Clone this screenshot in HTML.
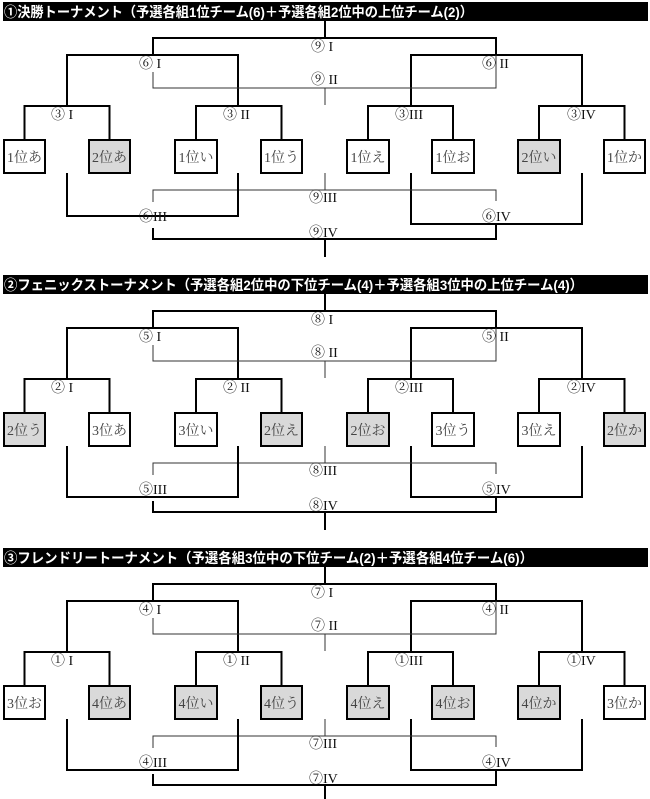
<!DOCTYPE html>
<html><head><meta charset="utf-8"><style>
html,body{margin:0;padding:0;background:#fff;}
svg{display:block;}
.h{font-family:"Liberation Sans","Noto Sans CJK JP",sans-serif;font-weight:bold;font-size:14px;fill:#fff;}
.l{font-family:"Liberation Serif","Noto Serif CJK SC",serif;font-size:14px;fill:#111;}
.b{font-family:"Liberation Serif","Noto Serif CJK SC",serif;font-size:14px;fill:#444;text-anchor:middle;}
.tk{fill:none;stroke:#000;stroke-width:2;}
.tn{fill:none;stroke:#333;stroke-width:1;}
.w{fill:#fff;stroke:#000;stroke-width:2;}
.g{fill:#d9d9d9;stroke:#000;stroke-width:2;}
</style></head><body>
<svg width="650" height="799" viewBox="0 0 650 799" xmlns="http://www.w3.org/2000/svg">
<defs>
<g id="top">
<path class="tk" d="M325 21V38M153 55V38H496V55M67 106V55H238V106M411 106V55H582V106"/>
<path class="tn" d="M153 72V88H496V55M325 88V105M325 173V190"/>
<path class="tk" d="M24.5 140V106H109.5V140M196 140V106H281.5V140M368 140V106H453V140M539 140V106H624.5V140"/>
<path class="tk" d="M411 173V224H582V173"/>
<path class="tn" d="M153 202V190H496V201"/>
<path class="tk" d="M153 228V239H496V224"/>
</g>
</defs>

<!-- Section 1 -->
<g>
<rect x="3" y="2" width="645" height="19" fill="#000"/>
<text class="h" x="4" y="17" textLength="469" lengthAdjust="spacingAndGlyphs">①決勝トーナメント（予選各組1位チーム(6)＋予選各組2位中の上位チーム(2)）</text>
<use href="#top"/>
<path class="tk" d="M67 173V216H238V173M325 239V257"/>
<text class="l" x="311" y="51">⑨ I</text>
<text class="l" x="139" y="68">⑥ I</text>
<text class="l" x="482" y="68">⑥ II</text>
<text class="l" x="311" y="84">⑨ II</text>
<text class="l" x="51" y="119">③ I</text>
<text class="l" x="223" y="119">③ II</text>
<text class="l" x="395" y="119">③III</text>
<text class="l" x="567" y="119">③IV</text>
<text class="l" x="309" y="202">⑨III</text>
<text class="l" x="139" y="221">⑥III</text>
<text class="l" x="482" y="221">⑥IV</text>
<text class="l" x="309" y="237">⑨IV</text>
<rect class="w" x="4" y="140" width="41" height="33"/><text class="b" x="24.5" y="162">1位あ</text>
<rect class="g" x="89" y="140" width="41" height="33"/><text class="b" x="109.5" y="162">2位あ</text>
<rect class="w" x="175" y="140" width="42" height="33"/><text class="b" x="196" y="162">1位い</text>
<rect class="w" x="261" y="140" width="41" height="33"/><text class="b" x="281.5" y="162">1位う</text>
<rect class="w" x="347" y="140" width="42" height="33"/><text class="b" x="368" y="162">1位え</text>
<rect class="w" x="432" y="140" width="42" height="33"/><text class="b" x="453" y="162">1位お</text>
<rect class="g" x="518" y="140" width="42" height="33"/><text class="b" x="539" y="162">2位い</text>
<rect class="w" x="604" y="140" width="41" height="33"/><text class="b" x="624.5" y="162">1位か</text>
</g>

<!-- Section 2 -->
<g transform="translate(0,273)">
<rect x="3" y="2" width="645" height="19" fill="#000"/>
<text class="h" x="4" y="17" textLength="579" lengthAdjust="spacingAndGlyphs">②フェニックストーナメント（予選各組2位中の下位チーム(4)＋予選各組3位中の上位チーム(4)）</text>
<use href="#top"/>
<path class="tk" d="M67 173V224H238V173M325 239V257"/>
<text class="l" x="311" y="51">⑧ I</text>
<text class="l" x="139" y="68">⑤ I</text>
<text class="l" x="482" y="68">⑤ II</text>
<text class="l" x="311" y="84">⑧ II</text>
<text class="l" x="51" y="119">② I</text>
<text class="l" x="223" y="119">② II</text>
<text class="l" x="395" y="119">②III</text>
<text class="l" x="567" y="119">②IV</text>
<text class="l" x="309" y="202">⑧III</text>
<text class="l" x="139" y="221">⑤III</text>
<text class="l" x="482" y="221">⑤IV</text>
<text class="l" x="309" y="237">⑧IV</text>
<rect class="g" x="4" y="140" width="41" height="33"/><text class="b" x="24.5" y="162">2位う</text>
<rect class="w" x="89" y="140" width="41" height="33"/><text class="b" x="109.5" y="162">3位あ</text>
<rect class="w" x="175" y="140" width="42" height="33"/><text class="b" x="196" y="162">3位い</text>
<rect class="g" x="261" y="140" width="41" height="33"/><text class="b" x="281.5" y="162">2位え</text>
<rect class="g" x="347" y="140" width="42" height="33"/><text class="b" x="368" y="162">2位お</text>
<rect class="w" x="432" y="140" width="42" height="33"/><text class="b" x="453" y="162">3位う</text>
<rect class="w" x="518" y="140" width="42" height="33"/><text class="b" x="539" y="162">3位え</text>
<rect class="g" x="604" y="140" width="41" height="33"/><text class="b" x="624.5" y="162">2位か</text>
</g>

<!-- Section 3 -->
<g transform="translate(0,546)">
<rect x="3" y="2" width="645" height="19" fill="#000"/>
<text class="h" x="4" y="17" textLength="529" lengthAdjust="spacingAndGlyphs">③フレンドリートーナメント（予選各組3位中の下位チーム(2)＋予選各組4位チーム(6)）</text>
<use href="#top"/>
<path class="tk" d="M67 173V224H238V173M325 239V260"/>
<text class="l" x="311" y="51">⑦ I</text>
<text class="l" x="139" y="68">④ I</text>
<text class="l" x="482" y="68">④ II</text>
<text class="l" x="311" y="84">⑦ II</text>
<text class="l" x="51" y="119">① I</text>
<text class="l" x="223" y="119">① II</text>
<text class="l" x="395" y="119">①III</text>
<text class="l" x="567" y="119">①IV</text>
<text class="l" x="309" y="202">⑦III</text>
<text class="l" x="139" y="221">④III</text>
<text class="l" x="482" y="221">④IV</text>
<text class="l" x="309" y="237">⑦IV</text>
<rect class="w" x="4" y="140" width="41" height="33"/><text class="b" x="24.5" y="162">3位お</text>
<rect class="g" x="89" y="140" width="41" height="33"/><text class="b" x="109.5" y="162">4位あ</text>
<rect class="g" x="175" y="140" width="42" height="33"/><text class="b" x="196" y="162">4位い</text>
<rect class="g" x="261" y="140" width="41" height="33"/><text class="b" x="281.5" y="162">4位う</text>
<rect class="g" x="347" y="140" width="42" height="33"/><text class="b" x="368" y="162">4位え</text>
<rect class="g" x="432" y="140" width="42" height="33"/><text class="b" x="453" y="162">4位お</text>
<rect class="g" x="518" y="140" width="42" height="33"/><text class="b" x="539" y="162">4位か</text>
<rect class="w" x="604" y="140" width="41" height="33"/><text class="b" x="624.5" y="162">3位か</text>
</g>
</svg>
</body></html>
